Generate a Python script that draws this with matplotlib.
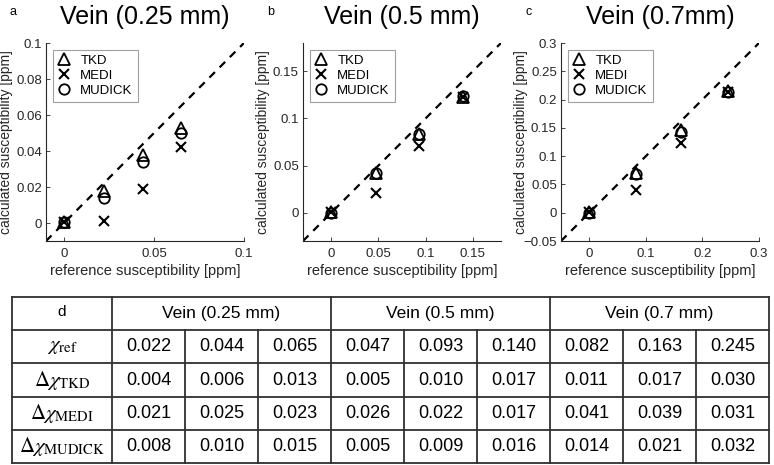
import numpy as np
import matplotlib
matplotlib.use('Agg')
import matplotlib.pyplot as plt

plt.rcParams['font.family'] = ['Liberation Sans', 'DejaVu Sans']
plt.rcParams['mathtext.fontset'] = 'stix'

# scatter data
ref_a = [0.0, 0.022, 0.044, 0.065]
tkd_a = [0.0008, 0.018, 0.038, 0.053]
medi_a = [0.0005, 0.001, 0.019, 0.042]
mudick_a = [0.0003, 0.014, 0.034, 0.050]

ref_b = [0.0, 0.047, 0.093, 0.140]
tkd_b = [0.001, 0.042, 0.083, 0.123]
medi_b = [0.0005, 0.021, 0.071, 0.123]
mudick_b = [0.0, 0.042, 0.084, 0.124]

ref_c = [0.0, 0.082, 0.163, 0.245]
tkd_c = [0.002, 0.071, 0.146, 0.216]
medi_c = [0.001, 0.041, 0.124, 0.214]
mudick_c = [0.0, 0.068, 0.142, 0.213]

titles = ['Vein (0.25 mm)', 'Vein (0.5 mm)', 'Vein (0.7mm)']
letters = ['a', 'b', 'c']
lims = [(-0.01, 0.1), (-0.03, 0.18), (-0.05, 0.3)]
xticks = [[0, 0.05, 0.1], [0, 0.05, 0.1, 0.15], [0, 0.1, 0.2, 0.3]]
yticks = [[0, 0.02, 0.04, 0.06, 0.08, 0.1], [0, 0.05, 0.1, 0.15],
          [-0.05, 0, 0.05, 0.1, 0.15, 0.2, 0.25, 0.3]]

# table data
group_names = ['Vein (0.25 mm)', 'Vein (0.5 mm)', 'Vein (0.7 mm)']
row_names = [r'$\chi_{\mathrm{ref}}$', r'$\Delta\chi_{\mathrm{TKD}}$',
             r'$\Delta\chi_{\mathrm{MEDI}}$', r'$\Delta\chi_{\mathrm{MUDICK}}$']
chi_ref = [0.022, 0.044, 0.065, 0.047, 0.093, 0.140, 0.082, 0.163, 0.245]
d_tkd = [0.004, 0.006, 0.013, 0.005, 0.010, 0.017, 0.011, 0.017, 0.030]
d_medi = [0.021, 0.025, 0.023, 0.026, 0.022, 0.017, 0.041, 0.039, 0.031]
d_mudick = [0.008, 0.010, 0.015, 0.005, 0.009, 0.016, 0.014, 0.021, 0.032]

W, H = 774, 465
fig = plt.figure(figsize=(W / 100, H / 100), dpi=100)


def fmt(v):
    return '%g' % v if v >= 0 else '\u2212%g' % -v


series = [(ref_a, tkd_a, medi_a, mudick_a),
          (ref_b, tkd_b, medi_b, mudick_b),
          (ref_c, tkd_c, medi_c, mudick_c)]
lefts = [46, 303, 561]
for i, (ref, tkd, medi, mud) in enumerate(series):
    ax = fig.add_axes([lefts[i] / W, (H - 241) / H, 198 / W, 198 / H])
    lo, hi = lims[i]
    ax.plot([lo, hi], [lo, hi], ls='--', color='k', lw=1.6, dashes=(3.5, 3))
    ax.plot(ref, tkd, ls='none', marker='^', ms=8, mfc='none', mec='k', mew=1.3, label='TKD')
    ax.plot(ref, medi, ls='none', marker='x', ms=7, mec='k', mew=1.5, label='MEDI')
    ax.plot(ref, mud, ls='none', marker='o', ms=7.5, mfc='none', mec='k', mew=1.3, label='MUDICK')
    ax.set_xlim(lo, hi)
    ax.set_ylim(lo, hi)
    ax.set_xticks(xticks[i])
    ax.set_yticks(yticks[i])
    ax.set_xticklabels([fmt(v) for v in xticks[i]])
    ax.set_yticklabels([fmt(v) for v in yticks[i]])
    for s in ['top', 'right']:
        ax.spines[s].set_visible(False)
    for s in ['left', 'bottom']:
        ax.spines[s].set_color('#262626')
        ax.spines[s].set_linewidth(0.8)
    ax.tick_params(direction='in', length=3, width=0.6, labelsize=9.5,
                   colors='#262626')
    ax.tick_params(axis='x', pad=5)
    ax.tick_params(axis='y', pad=3)
    ax.set_xlabel('reference susceptibility [ppm]', fontsize=10.5, color='#262626', labelpad=3)
    ax.set_ylabel('calculated susceptibility [ppm]', fontsize=10, color='#262626')
    ax.yaxis.set_label_coords(-0.167, 0.5)
    ax.set_title(titles[i], fontsize=18, pad=14)
    leg = ax.legend(loc='upper left', fontsize=9.5, handlelength=1.0, handletextpad=0.7,
                    fancybox=False, edgecolor='#888888', borderpad=0.4,
                    labelspacing=0.2, borderaxespad=0.5)
    leg.get_frame().set_linewidth(0.8)
    fig.text((lefts[i] - 36) / W, 1 - 12 / H, letters[i], fontsize=9, va='center')

# table
tab = fig.add_axes([12 / W, (H - 463) / H, 757 / W, 166 / H])
col_w = [1.37] + [1.0] * 9
edges = np.concatenate([[0], np.cumsum(col_w)])
nrows = 5
tab.set_xlim(edges[0], edges[-1])
tab.set_ylim(nrows, 0)
tab.axis('off')
lc = '#303030'
lw = 1.3
for r in range(nrows + 1):
    tab.plot([edges[0], edges[-1]], [r, r], color=lc, lw=lw, clip_on=False, solid_capstyle='projecting')
for k, x in enumerate(edges):
    if k in (0, 1, 4, 7, 10):
        tab.plot([x, x], [0, nrows], color=lc, lw=lw, clip_on=False, solid_capstyle='projecting')
    else:
        tab.plot([x, x], [1, nrows], color=lc, lw=lw, clip_on=False)

tab.text((edges[0] + edges[1]) / 2, 0.45, 'd', ha='center', va='center', fontsize=11)
for g, name in enumerate(group_names):
    cx = (edges[1 + 3 * g] + edges[4 + 3 * g]) / 2
    tab.text(cx, 0.5, name, ha='center', va='center', fontsize=12.5)

rows = [chi_ref, d_tkd, d_medi, d_mudick]
for r, (name, vals) in enumerate(zip(row_names, rows)):
    y = r + 1.5
    tab.text((edges[0] + edges[1]) / 2, y, name, ha='center', va='center', fontsize=15)
    for c, v in enumerate(vals):
        tab.text((edges[c + 1] + edges[c + 2]) / 2, y, '%.3f' % v,
                 ha='center', va='center', fontsize=13)

fig.savefig('out.png', dpi=100)
